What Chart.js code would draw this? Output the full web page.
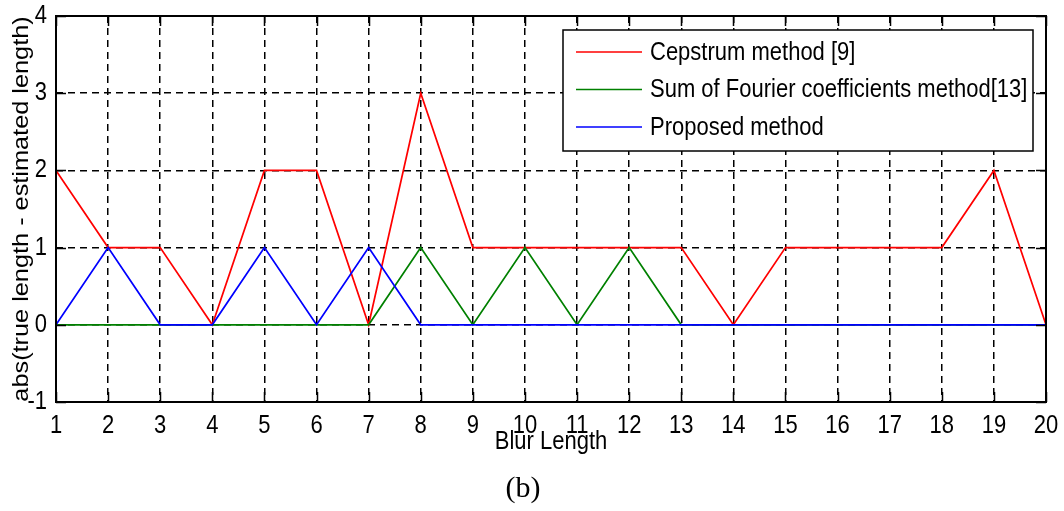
<!DOCTYPE html>
<html>
<head>
<meta charset="utf-8">
<title>Blur length estimation error</title>
<script src="https://cdn.jsdelivr.net/npm/chart.js@4/dist/chart.umd.min.js"></script>
<style>
  html, body { margin: 0; padding: 0; background: #ffffff; }
  #wrap { width: 1064px; height: 511px; position: relative; }
</style>
</head>
<body>
<div id="wrap"><canvas id="chart" width="1064" height="511"></canvas></div>
<script>
// Blur lengths 1..20 on the x axis
const blurLengths = [1, 2, 3, 4, 5, 6, 7, 8, 9, 10, 11, 12, 13, 14, 15, 16, 17, 18, 19, 20];

// abs(true length - estimated length) for each method
const cepstrumError = [2, 1, 1, 0, 2, 2, 0, 3, 1, 1, 1, 1, 1, 0, 1, 1, 1, 1, 2, 0];
const fourierSumError = [0, 0, 0, 0, 0, 0, 0, 1, 0, 1, 0, 1, 0, 0, 0, 0, 0, 0, 0, 0];
const proposedError = [0, 1, 0, 0, 1, 0, 1, 0, 0, 0, 0, 0, 0, 0, 0, 0, 0, 0, 0, 0];

const yTicks = [-1, 0, 1, 2, 3, 4];

const seriesNames = ['Cepstrum method [9]', 'Sum of Fourier coefficients method[13]', 'Proposed method'];
const seriesColors = ['#ff0000', '#008000', '#0000ff'];

const SANS = "'Liberation Sans', Arial, sans-serif";
const SERIF = "'Liberation Serif', 'Times New Roman', serif";

const canvas = document.getElementById('chart');
const ctx2d = canvas.getContext('2d');

// Tall, condensed lettering for the sans-serif labels: glyphs are drawn
// stretched vertically about their anchor point.
const TEXT_STRETCH = 1.15;
const baseFillText = CanvasRenderingContext2D.prototype.fillText;
ctx2d.fillText = function (text, x, y, maxWidth) {
  if (!/Liberation Sans/.test(this.font)) {
    return maxWidth === undefined ? baseFillText.call(this, text, x, y) : baseFillText.call(this, text, x, y, maxWidth);
  }
  const m = this.getTransform();
  const py = m.b * x + m.d * y + m.f;
  this.save();
  this.setTransform(new DOMMatrix([1, 0, 0, TEXT_STRETCH, 0, py * (1 - TEXT_STRETCH)]).multiply(m));
  if (maxWidth === undefined) baseFillText.call(this, text, x, y);
  else baseFillText.call(this, text, x, y, maxWidth);
  this.restore();
};

// Box round the axes with inward tick marks on all four sides
const axesBox = {
  id: 'axesBox',
  afterDatasetsDraw(chart) {
    const { ctx, chartArea: a, scales } = chart;
    const len = 10;
    ctx.save();
    ctx.strokeStyle = '#000';
    ctx.lineWidth = 1.5;
    ctx.beginPath();
    blurLengths.forEach((v, i) => {
      const x = Math.round(scales.x.getPixelForValue(i)) + 0.5;
      ctx.moveTo(x, a.bottom); ctx.lineTo(x, a.bottom - len);
      ctx.moveTo(x, a.top); ctx.lineTo(x, a.top + len);
    });
    yTicks.forEach(v => {
      const y = Math.round(scales.y.getPixelForValue(v)) + 0.5;
      ctx.moveTo(a.left, y); ctx.lineTo(a.left + len, y);
      ctx.moveTo(a.right, y); ctx.lineTo(a.right - len, y);
    });
    ctx.stroke();
    ctx.lineWidth = 2;
    ctx.strokeRect(a.left, a.top, a.right - a.left, a.bottom - a.top);
    ctx.restore();
  }
};

// Legend panel in the upper right corner of the axes
const boxLegend = {
  id: 'boxLegend',
  afterDraw(chart) {
    const { ctx, chartArea: a } = chart;
    const w = 470, h = 121;
    const x0 = a.right - 13 - w;
    const y0 = a.top + 14;
    ctx.save();
    ctx.fillStyle = '#ffffff';
    ctx.fillRect(x0, y0, w, h);
    ctx.strokeStyle = '#000';
    ctx.lineWidth = 1.5;
    ctx.strokeRect(x0, y0, w, h);
    ctx.font = '22px ' + SANS;
    ctx.textBaseline = 'middle';
    ctx.textAlign = 'left';
    chart.data.datasets.forEach(ds => {
      const idx = seriesNames.indexOf(ds.label);
      const y = y0 + 22 + idx * 37.5;
      ctx.strokeStyle = ds.borderColor;
      ctx.lineWidth = 1.5;
      ctx.beginPath();
      ctx.moveTo(x0 + 13, y);
      ctx.lineTo(x0 + 79, y);
      ctx.stroke();
      ctx.fillStyle = '#000';
      ctx.fillText(ds.label, x0 + 87, y + 1);
    });
    ctx.restore();
  }
};

const gridStyle = {
  color: '#000',
  lineWidth: 1.5,
  drawTicks: false
};

function noEdgePadding(scale) {
  scale.paddingTop = 0;
  scale.paddingBottom = 0;
  scale.paddingLeft = 0;
  scale.paddingRight = 0;
}

new Chart(canvas, {
  type: 'line',
  data: {
    labels: blurLengths,
    datasets: [
      { label: seriesNames[0], data: cepstrumError, borderColor: seriesColors[0], order: 3 },
      { label: seriesNames[1], data: fourierSumError, borderColor: seriesColors[1], order: 2 },
      { label: seriesNames[2], data: proposedError, borderColor: seriesColors[2], order: 1 }
    ].map(d => Object.assign(d, { borderWidth: 1.7, pointRadius: 0, tension: 0, fill: false }))
  },
  options: {
    responsive: false,
    animation: false,
    events: [],
    layout: { padding: { left: 0, top: 16, right: 18, bottom: 0 } },
    plugins: {
      legend: { display: false },
      tooltip: { enabled: false },
      title: {
        display: true,
        position: 'bottom',
        text: '(b)',
        color: '#000',
        font: { family: SERIF, size: 30, weight: 'normal' },
        padding: { top: 9, bottom: 4 }
      }
    },
    scales: {
      x: {
        type: 'category',
        offset: false,
        grid: Object.assign({}, gridStyle),
        border: { display: false, dash: [7, 5] },
        ticks: { color: '#000', padding: 11, maxRotation: 0, autoSkip: false, font: { family: SANS, size: 22 } },
        title: { display: true, text: 'Blur Length', color: '#000', font: { family: SANS, size: 22 }, padding: { top: 0, bottom: 7 } },
        afterFit(scale) { scale.height = 60; noEdgePadding(scale); }
      },
      y: {
        min: -1,
        max: 4,
        afterBuildTicks(scale) { scale.ticks = yTicks.map(v => ({ value: v })); },
        grid: Object.assign({}, gridStyle),
        border: { display: false, dash: [7, 5] },
        ticks: { color: '#000', padding: 9, font: { family: SANS, size: 22 } },
        title: { display: true, text: 'abs(true length - estimated length)', color: '#000', font: { family: SANS, size: 22 }, padding: { top: 9, bottom: 0 } },
        afterFit(scale) { scale.width = 56; noEdgePadding(scale); }
      }
    },
    elements: { line: { borderCapStyle: 'butt' } }
  },
  plugins: [axesBox, boxLegend]
});
</script>
</body>
</html>
